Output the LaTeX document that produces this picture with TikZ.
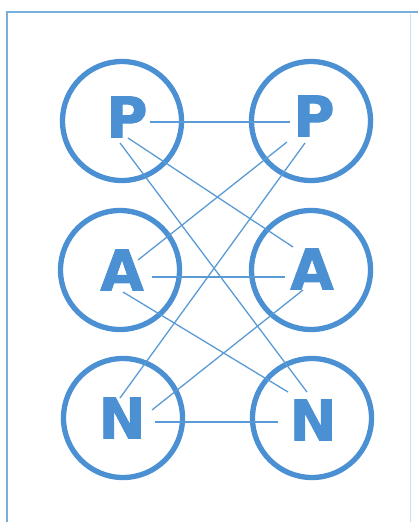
\documentclass[tikz,border=0pt]{standalone}
\usepackage{fontspec}
\setmainfont{DejaVu Sans}
\newfontfamily\heavyfont[FakeBold=1.6]{DejaVu Sans Bold}
\definecolor{ring}{HTML}{4A90D2}
\definecolor{wire}{HTML}{5B9BD5}
\definecolor{frame}{HTML}{78AEDC}
\begin{document}
\begin{tikzpicture}[x=1pt,y=-1pt,
  ringstyle/.style={circle,draw=ring,line width=5.3pt,minimum size=119pt,inner sep=0pt},
  letter/.style={text=ring,font=\fontsize{56}{56}\heavyfont,inner sep=0pt},
  wirestyle/.style={draw=wire,line width=1.3pt}]
\useasboundingbox (0,0) rectangle (418,522);
\fill[white] (0,0) rectangle (418,522);
% frame
\draw[frame,line width=2.2pt] (7,522) -- (7,12) -- (418,12);
\draw[frame!40,line width=1pt] (410,14) -- (410,522);
% rings
\node[ringstyle] (c1) at (122,121) {};
\node[ringstyle] (c2) at (311,121) {};
\node[ringstyle] (c3) at (120,270) {};
\node[ringstyle] (c4) at (311,270) {};
\node[ringstyle] (c5) at (123,418) {};
\node[ringstyle] (c6) at (312,418) {};
% letters
\node[letter] (p1) at (127,117) {P};
\node[letter] (p2) at (314,116) {P};
\node[letter] (a1) at (122,270) {A};
\node[letter] (a2) at (312,269) {A};
\node[letter] (n1) at (122,418) {N};
\node[letter] (n2) at (313,420) {N};
% wire ends
\coordinate (p1r) at (150,122); \coordinate (p2l) at (290,122);
\coordinate (p1a) at (128,138); \coordinate (a2t) at (293,247);
\coordinate (p1b) at (120,143); \coordinate (n2t) at (307,392);
\coordinate (p2a) at (287,142); \coordinate (a1t) at (138,260);
\coordinate (p2b) at (305,143); \coordinate (n1t) at (120,398);
\coordinate (a1r) at (152,277); \coordinate (a2l) at (285,277);
\coordinate (a1b) at (123,292); \coordinate (n2u) at (288,392);
\coordinate (a2b) at (303,290); \coordinate (n1u) at (152,410);
\coordinate (n1r) at (155,422); \coordinate (n2l) at (278,422);
% wires
\draw[wirestyle] (p1r) -- (p2l);
\draw[wirestyle] (p1a) -- (a2t);
\draw[wirestyle] (p1b) -- (n2t);
\draw[wirestyle] (p2a) -- (a1t);
\draw[wirestyle] (p2b) -- (n1t);
\draw[wirestyle] (a1r) -- (a2l);
\draw[wirestyle] (a1b) -- (n2u);
\draw[wirestyle] (a2b) -- (n1u);
\draw[wirestyle] (n1r) -- (n2l);
\end{tikzpicture}
\end{document}
